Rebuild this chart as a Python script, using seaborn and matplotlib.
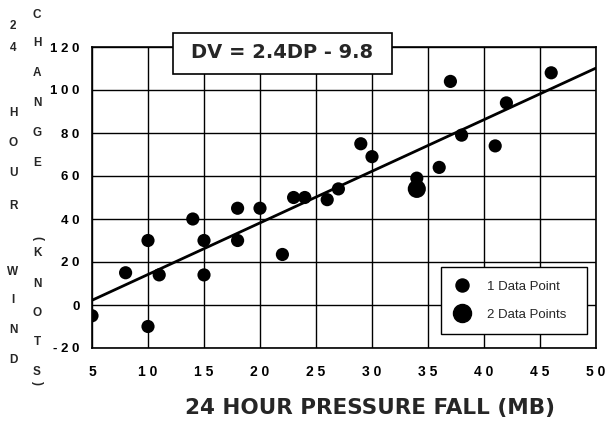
import numpy as np
import pandas as pd
import matplotlib
matplotlib.use("Agg")
import matplotlib.pyplot as plt
import seaborn as sns
from matplotlib.lines import Line2D
from matplotlib.patches import Rectangle

# ---- data ----
pressure_fall = [5, 8, 10, 10, 11, 14, 15, 15, 18, 18, 20, 22, 23, 24, 26, 27,
                 29, 30, 34, 34, 36, 37, 38, 41, 42, 46]
wind_change = [-5, 15, 30, -10, 14, 40, 30, 14, 45, 30, 45, 23.5, 50, 50, 49, 54,
               75, 69, 59, 54, 64, 104, 79, 74, 94, 108]
n_points = [1] * 19 + [2] + [1] * 6

fit_slope = 2.4
fit_intercept = -9.8
fit_range = [5, 50]

x_ticks = [5, 10, 15, 20, 25, 30, 35, 40, 45, 50]
x_tick_labels = ["5", "1 0", "1 5", "2 0", "2 5", "3 0", "3 5", "4 0", "4 5", "5 0"]
y_ticks = [-20, 0, 20, 40, 60, 80, 100, 120]
y_tick_labels = ["- 2 0", "0", "2 0", "4 0", "6 0", "8 0", "1 0 0", "1 2 0"]

equation_text = "DV = 2.4DP - 9.8"
x_title = "24 HOUR PRESSURE FALL (MB)"
y_title_col1 = ["2", "4", "H", "O", "U", "R", "W", "I", "N", "D"]
y_title_col2 = ["C", "H", "A", "N", "G", "E", "(", "K", "N", "O", "T", "S", ")"]
legend_labels = ["1 Data Point", "2 Data Points"]

# ---- figure ----
sns.set_style("white")
plt.rcParams["font.family"] = ["Liberation Sans", "DejaVu Sans"]

W, H = 606, 422
AX_L, AX_R, AX_T, AX_B = 92, 596, 47, 348
fig = plt.figure(figsize=(W / 100, H / 100), dpi=100)
ax = fig.add_axes([AX_L / W, 1 - AX_B / H, (AX_R - AX_L) / W, (AX_B - AX_T) / H])


def axfrac(px, py):
    return (px - AX_L) / (AX_R - AX_L), (AX_B - py) / (AX_B - AX_T)


df = pd.DataFrame({"dp": pressure_fall, "dv": wind_change, "n": n_points})
fit_x = np.array(fit_range, dtype=float)
fit_df = pd.DataFrame({"dp": fit_x, "dv": fit_slope * fit_x + fit_intercept})

sns.lineplot(data=fit_df, x="dp", y="dv", color="black", linewidth=2, ax=ax, zorder=3)
sns.scatterplot(data=df, x="dp", y="dv", size="n", sizes={1: 90, 2: 170},
                color="black", edgecolor="black", linewidth=0, legend=False,
                ax=ax, zorder=4)

ax.set_xlim(5, 50)
ax.set_ylim(-20, 120)
ax.set_xticks(x_ticks)
ax.set_xticklabels(x_tick_labels, fontsize=10, fontweight="bold")
ax.set_yticks(y_ticks)
ax.set_yticklabels(y_tick_labels, fontsize=9.5, fontweight="bold")
ax.set_xlabel("")
ax.set_ylabel("")
ax.grid(True, color="black", linewidth=1)
ax.set_axisbelow(True)
for s in ax.spines.values():
    s.set_color("black")
    s.set_linewidth(1.2)
ax.tick_params(axis="x", direction="inout", length=7, width=1, pad=9, colors="black")
ax.tick_params(axis="y", direction="out", length=4, width=1, pad=5, colors="black")

# equation box
bx0, by1 = axfrac(173, 33)
bx1, by0 = axfrac(392, 74)
ax.add_patch(Rectangle((bx0, by0), bx1 - bx0, by1 - by0, transform=ax.transAxes,
                       facecolor="white", edgecolor="black", linewidth=1.2,
                       clip_on=False, zorder=6))
tx, ty = axfrac(282, 53)
ax.text(tx, ty, equation_text, transform=ax.transAxes, ha="center", va="center",
        fontsize=14, fontweight="bold", family="DejaVu Sans", zorder=7,
        clip_on=False)

# legend
lx0, ly1 = axfrac(441, 259)
lx1, ly0 = axfrac(587, 334)
handles = [Line2D([], [], marker="o", ls="", color="black", markersize=9.4),
           Line2D([], [], marker="o", ls="", color="black", markersize=13)]
leg = ax.legend(handles, legend_labels, loc="lower left",
                bbox_to_anchor=(lx0, ly0, lx1 - lx0, ly1 - ly0), mode="expand",
                frameon=True, fancybox=False, edgecolor="black", framealpha=1,
                fontsize=9.5, borderpad=1.0, labelspacing=1.2, handlelength=1.2,
                handletextpad=1.3, borderaxespad=0)
leg.get_frame().set_linewidth(1)
leg.set_zorder(7)

# axis titles
fig.text(370 / W, 1 - 408 / H, x_title, ha="center", va="center",
         fontsize=15.5, fontweight="bold", family="DejaVu Sans")

col1_y = [26, 48, 113, 143, 173, 206, 272, 300, 330, 360]
col2_y = [15, 43, 73, 103, 133, 163, 238, 253, 284, 313, 342, 372, 383]
for ch, py in zip(y_title_col1, col1_y):
    fig.text(13 / W, 1 - py / H, ch, ha="center", va="center",
             fontsize=8.5, fontweight="bold")
for ch, py in zip(y_title_col2, col2_y):
    rot = -90 if ch in "()" else 0
    fig.text(37 / W, 1 - py / H, ch, ha="center", va="center",
             fontsize=8.5, fontweight="bold", rotation=rot)

fig.savefig("out.png", dpi=100)
